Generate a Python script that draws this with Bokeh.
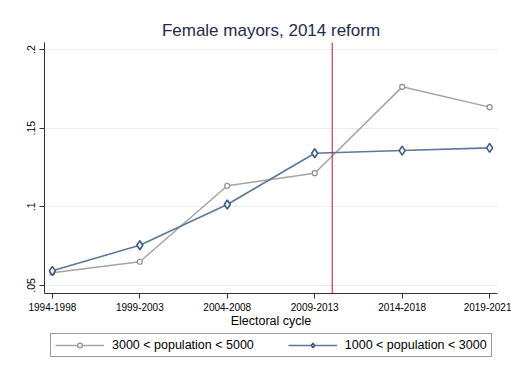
from bokeh.plotting import figure
from bokeh.layouts import column
from bokeh.models import FixedTicker, Span, Legend, LegendItem
from bokeh.embed import file_html
from bokeh.resources import INLINE

# Electoral cycles (x positions are the cycle index)
cycles = ["1994-1998", "1999-2003", "2004-2008", "2009-2013", "2014-2018", "2019-2021"]
cycle_idx = [0, 1, 2, 3, 4, 5]

# Share of female mayors by municipality size
pop_3000_5000 = [0.0581, 0.0651, 0.1134, 0.1214, 0.1763, 0.1634]
pop_1000_3000 = [0.0593, 0.0756, 0.1015, 0.1341, 0.1358, 0.1375]

y_ticks = [0.05, 0.10, 0.15, 0.20]
y_tick_labels = [".05", ".1", ".15", ".2"]

series_labels = ["3000 < population < 5000", "1000 < population < 3000"]

# Position of the 2014 reform marker on the cycle axis
reform_x = 3.2

FONT = "Liberation Sans"
GRAY = "#a3a3a3"
GRAY_EDGE = "#8c8c8c"
BLUE = "#5b779c"
BLUE_EDGE = "#3b5680"


def add_series(fig):
    """Draw both series on fig and return the renderers per series."""
    g_line = fig.line(cycle_idx, pop_3000_5000, line_color=GRAY, line_width=1.5)
    g_pts = fig.scatter(cycle_idx, pop_3000_5000, marker="circle", size=5,
                        line_color=GRAY_EDGE, fill_color="white", line_width=1.2)
    b_line = fig.line(cycle_idx, pop_1000_3000, line_color=BLUE, line_width=1.6)
    b_pts = fig.scatter(cycle_idx, pop_1000_3000, marker="diamond", size=9,
                        line_color=BLUE_EDGE, fill_color="#eef2f7", line_width=1.5)
    return [g_line, g_pts], [b_line, b_pts]


# Main chart
p = figure(width=511, height=333, output_backend="svg", toolbar_location=None,
           x_range=(-0.09, 5.09), y_range=(0.0449, 0.2045),
           min_border_left=44, min_border_right=14, min_border_top=42,
           min_border_bottom=40)

p.title.text = "Female mayors, 2014 reform"
p.title.align = "center"
p.title.text_font = FONT
p.title.text_font_size = "17px"
p.title.text_font_style = "normal"
p.title.text_color = "#1f2a4d"
p.title.standoff = 6

p.outline_line_color = None
p.background_fill_color = "white"
p.border_fill_color = "white"

p.xaxis.ticker = FixedTicker(ticks=cycle_idx)
p.xaxis.major_label_overrides = {i: c for i, c in zip(cycle_idx, cycles)}
p.xaxis.axis_label = "Electoral cycle"
p.yaxis.ticker = FixedTicker(ticks=y_ticks)
p.yaxis.major_label_overrides = {t: l for t, l in zip(y_ticks, y_tick_labels)}
p.yaxis.major_label_orientation = "vertical"

for ax in (p.xaxis, p.yaxis):
    ax.axis_line_color = "#333333"
    ax.axis_line_width = 1
    ax.major_tick_line_color = "#333333"
    ax.major_tick_out = 5
    ax.major_tick_in = 0
    ax.minor_tick_line_color = None
    ax.major_label_text_font = FONT
    ax.major_label_text_font_size = "10px"
    ax.major_label_text_color = "black"
    ax.major_label_standoff = 4
    ax.axis_label_text_font = FONT
    ax.axis_label_text_font_size = "12.5px"
    ax.axis_label_text_font_style = "normal"
    ax.axis_label_text_color = "black"
p.yaxis.major_label_text_font_size = "10.5px"
p.xaxis.axis_label_standoff = 0

p.xgrid.grid_line_color = None
p.ygrid.grid_line_color = "#e6eef0"
p.ygrid.grid_line_width = 1

p.add_layout(Span(location=reform_x, dimension="height", line_color="#c4162a",
                  line_width=1))

add_series(p)

# Legend strip below the chart: same series drawn outside its view range,
# so only the legend entries show (its frame lines up with the chart's frame)
k = figure(width=511, height=38, output_backend="svg", toolbar_location=None,
           x_range=(100, 101), y_range=(100, 101),
           x_axis_type=None, y_axis_type=None, min_border=0)
k.outline_line_color = None
k.background_fill_color = "white"
k.border_fill_color = "white"
k.grid.visible = False
gray_r, blue_r = add_series(k)

legend = Legend(items=[
    LegendItem(label=series_labels[0], renderers=gray_r),
    LegendItem(label=series_labels[1], renderers=blue_r),
], orientation="horizontal", location=(6, 14))
legend.label_text_font = FONT
legend.label_text_font_size = "12.5px"
legend.label_text_color = "black"
legend.glyph_width = 49
legend.glyph_height = 12
legend.label_height = 12
legend.label_standoff = 8
legend.spacing = 34
legend.padding = 4
legend.margin = 0
legend.border_line_color = "#333333"
legend.border_line_width = 1
legend.background_fill_color = "white"
legend.background_fill_alpha = 1
k.add_layout(legend, "center")

layout = column(p, k, spacing=0)
open("out.html", "w").write(file_html(layout, INLINE))
